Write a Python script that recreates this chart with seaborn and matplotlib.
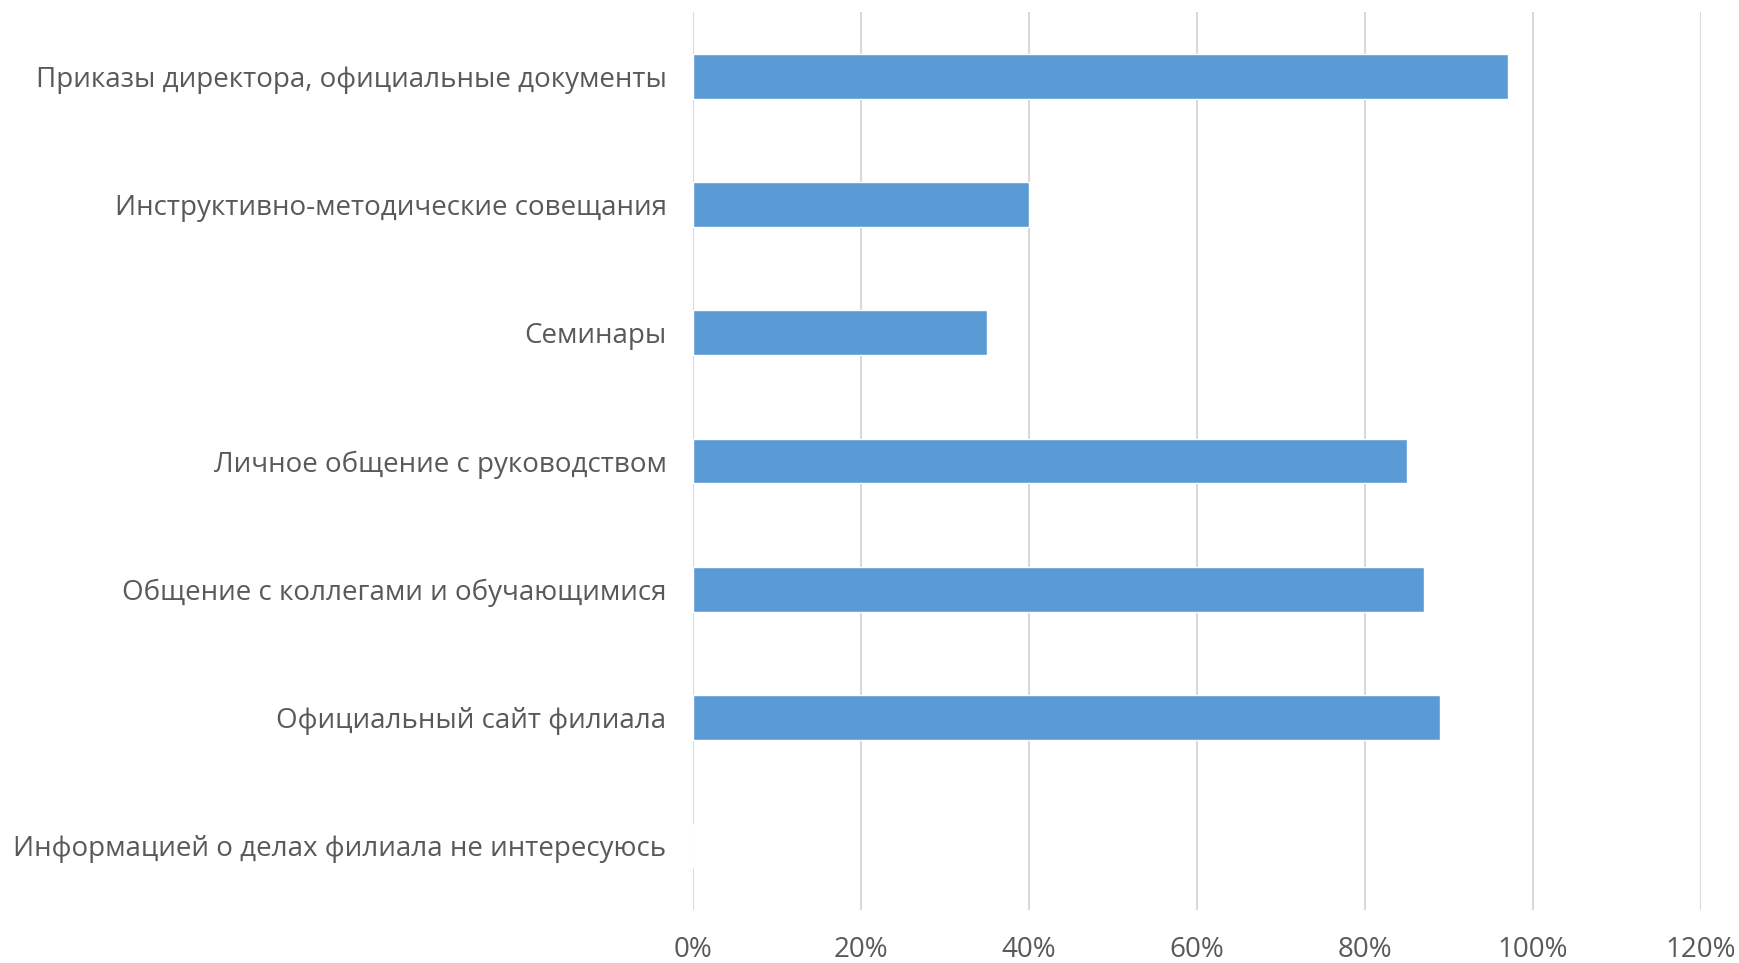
import matplotlib
matplotlib.use("Agg")
import matplotlib.pyplot as plt
import seaborn as sns
import pandas as pd
from matplotlib.ticker import PercentFormatter

# categories and values (share of respondents, %)
categories = [
    "Приказы директора, официальные документы",
    "Инструктивно-методические совещания",
    "Семинары",
    "Личное общение с руководством",
    "Общение с коллегами и обучающимися",
    "Официальный сайт филиала",
    "Информацией о делах филиала не интересуюсь",
]
values = [97, 40, 35, 85, 87, 89, 0]
x_ticks = [0, 20, 40, 60, 80, 100, 120]

df = pd.DataFrame({"source": categories, "share": values})

sns.set_style("white")
plt.rcParams["font.family"] = ["Open Sans", "DejaVu Sans"]
text_color = "#595959"

fig = plt.figure(figsize=(17.39, 9.63), dpi=100)
ax = fig.add_axes([0.3985, 0.055, 0.5795, 0.9325])

sns.barplot(data=df, y="source", x="share", orient="h", color="#5B9BD5",
            width=0.35, saturation=1, ax=ax, zorder=3)

ax.set_xlim(0, 120)
ax.set_ylim(6.5, -0.5)
ax.set_xticks(x_ticks)
ax.xaxis.set_major_formatter(PercentFormatter(decimals=0))
ax.grid(axis="x", color="#D9D9D9", linewidth=1.5, zorder=0)
ax.grid(axis="y", visible=False)
ax.set_axisbelow(True)

for spine in ax.spines.values():
    spine.set_visible(False)

ax.set_xlabel("")
ax.set_ylabel("")
ax.tick_params(axis="y", length=0, pad=19, labelsize=20, labelcolor=text_color)
ax.tick_params(axis="x", length=0, pad=19, labelsize=20, labelcolor=text_color)

fig.savefig("out.png", dpi=100)
